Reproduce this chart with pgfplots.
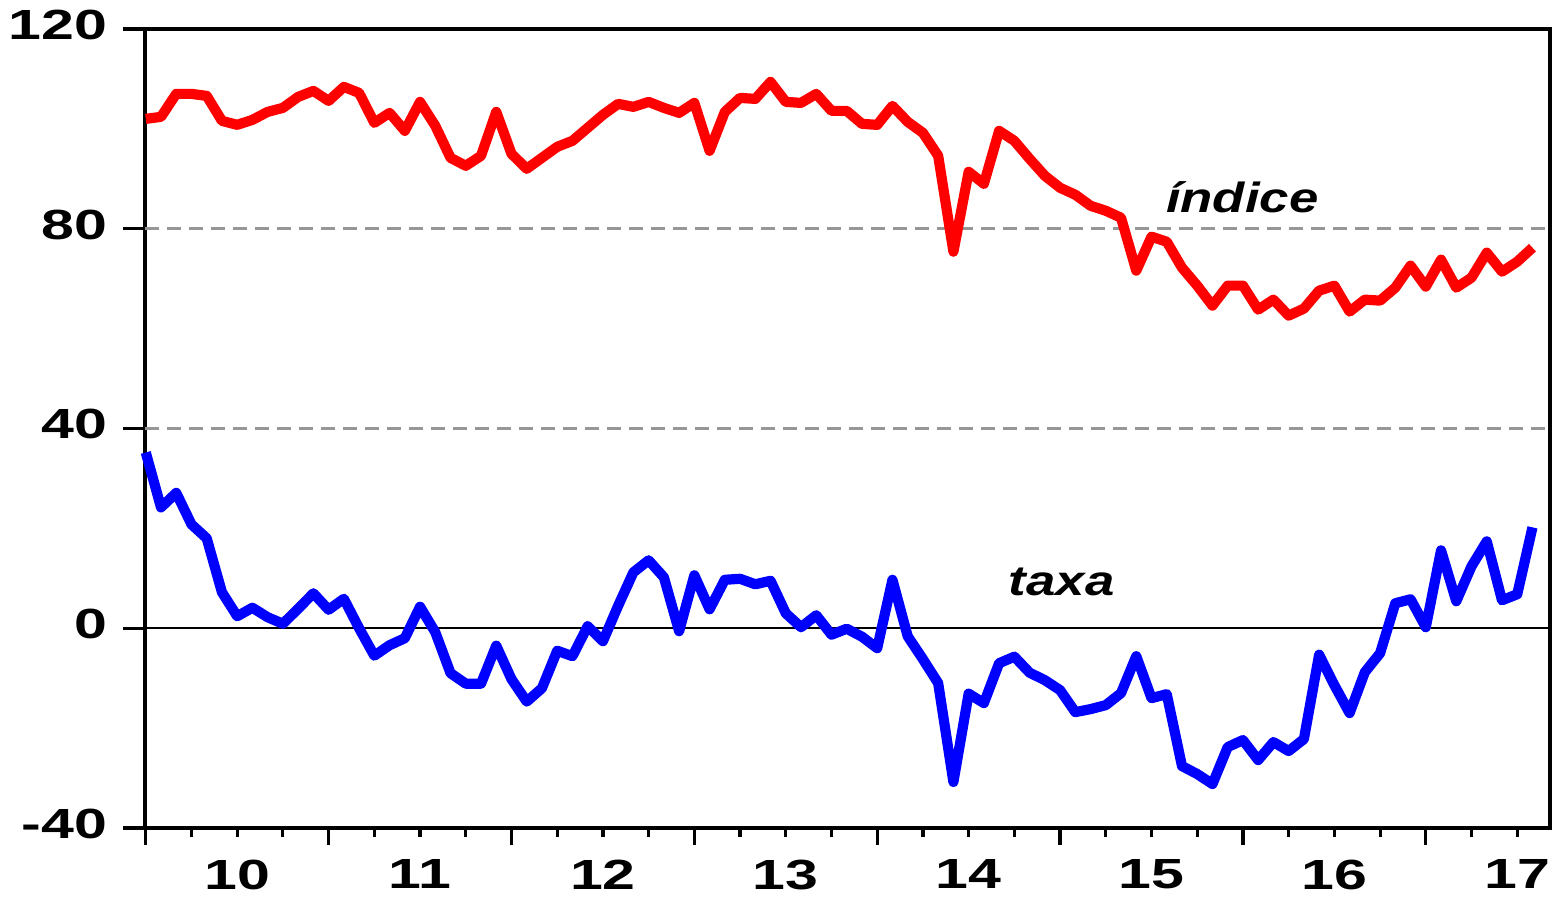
\documentclass[border=0pt]{standalone}
\usepackage{fontspec}
\setmainfont{Liberation Sans}
\newfontfamily\tickfont{Liberation Sans}[FakeStretch=1.4]
\newfontfamily\labfont{Liberation Sans}[FakeStretch=1.25]
\usepackage{pgfplots}
\pgfplotsset{compat=1.18}
\usepackage{pgfplotstable}
\definecolor{gridgray}{RGB}{150,150,150}

% i = months since Jul 2009
\pgfplotstableread{
i indice taxa
0 102 35.2
1 102.4 24.2
2 107 27.1
3 107 20.8
4 106.6 18
5 101.6 7.2
6 100.8 2.4
7 101.8 4.1
8 103.4 2.2
9 104.2 0.9
10 106.4 3.9
11 107.6 7
12 105.6 3.7
13 108.4 5.9
14 107.2 0
15 101.2 -5.5
16 103.2 -3.4
17 99.6 -2
18 105.4 4.3
19 100.6 -0.8
20 94.2 -9
21 92.6 -11.1
22 94.6 -11.1
23 103.4 -3.5
24 95 -10.2
25 92 -14.7
26 94.2 -12
27 96.4 -4.5
28 97.6 -5.6
29 100.2 0.4
30 102.8 -2.6
31 105 4.5
32 104.4 11.2
33 105.4 13.6
34 104.2 10.2
35 103.2 -0.6
36 105.2 10.6
37 95.6 3.8
38 103.4 9.7
39 106.2 9.9
40 106 8.8
41 109.4 9.5
42 105.4 3
43 105.2 0.2
44 107 2.6
45 103.6 -1.3
46 103.6 -0.1
47 101 -1.7
48 100.8 -4
49 104.6 9.7
50 101.4 -1.6
51 99.2 -6.2
52 94.6 -11
53 75.4 -30.8
54 91.4 -13.1
55 89 -15
56 99.6 -7
57 97.6 -5.7
58 94 -8.9
59 90.6 -10.4
60 88.2 -12.4
61 86.8 -16.8
62 84.6 -16.2
63 83.6 -15.4
64 82.2 -13
65 71.6 -5.6
66 78.4 -14
67 77.4 -13.2
68 72.2 -27.6
69 68.6 -29.2
70 64.6 -31.2
71 68.6 -23.8
72 68.6 -22.4
73 63.8 -26.4
74 65.8 -22.8
75 62.6 -24.6
76 64 -22.2
77 67.6 -5.3
78 68.6 -11.4
79 63.4 -17
80 65.8 -8.8
81 65.6 -5
82 68.2 5
83 72.6 5.8
84 68.4 0.2
85 73.8 15.6
86 68.2 5.4
87 70.2 12.4
88 75.2 17.4
89 71.4 5.6
90 73.4 6.8
91 76.2 20.2
}\datatable

\begin{document}
\begin{tikzpicture}
\begin{axis}[
  scale only axis,
  width=14.05cm, height=7.99cm,
  xmin=-0.05, xmax=92.15,
  ymin=-40, ymax=120,
  clip=false,
  axis line style={black, line width=0.9pt},
  every tick/.style={black, line width=0.9pt},
  tick align=outside,
  xtick pos=bottom, ytick pos=left,
  ytick=\empty,
  extra y ticks={-40,0,40,80,120},
  extra y tick labels={-40,0,40,80,120},
  extra y tick style={
    ymajorgrids=false,
    major tick length=0.22cm,
    yticklabel style={font=\tickfont\bfseries\fontsize{12pt}{14pt}\selectfont, anchor=east, inner sep=0pt, xshift=-0.15cm, yshift=0.04cm},
  },
  major tick length=0.09cm,
  minor tick length=0.09cm,
  xtick={6,18,30,42,54,66,78,90},
  xticklabels={10,11,12,13,14,15,16,17},
  xticklabel style={font=\tickfont\bfseries\fontsize{12pt}{14pt}\selectfont, anchor=north, inner sep=0pt, yshift=-0.22cm},
  minor xtick={3,9,15,21,27,33,39,45,51,57,63,69,75,81,87},
  extra x ticks={0,12,24,36,48,60,72,84},
  extra x tick labels={},
  extra x tick style={major tick length=0.17cm, xmajorgrids=false},
]
\draw[gridgray, line width=0.7pt, dash pattern=on 0.14cm off 0.08cm] (axis cs:-0.05,40) -- (axis cs:92.15,40);
\draw[gridgray, line width=0.7pt, dash pattern=on 0.14cm off 0.08cm] (axis cs:-0.05,80) -- (axis cs:92.15,80);
\draw[black, line width=0.7pt] (axis cs:-0.05,0) -- (axis cs:92.15,0);
\addplot[blue, line width=2.9pt, line join=round] table[x=i, y=taxa] {\datatable};
\addplot[red, line width=2.9pt, line join=round] table[x=i, y=indice] {\datatable};
\node[anchor=base, inner sep=0pt, font=\labfont\bfseries\itshape\fontsize{12pt}{14pt}\selectfont] at (axis cs:71.95,83.3) {índice};
\node[anchor=base, inner sep=0pt, font=\labfont\bfseries\itshape\fontsize{12pt}{14pt}\selectfont] at (axis cs:60.1,6.6) {taxa};
\path (rel axis cs:0,0) ++(-1.45cm,-0.71cm) rectangle ++(15.58cm,8.99cm);
\end{axis}
\end{tikzpicture}
\end{document}
